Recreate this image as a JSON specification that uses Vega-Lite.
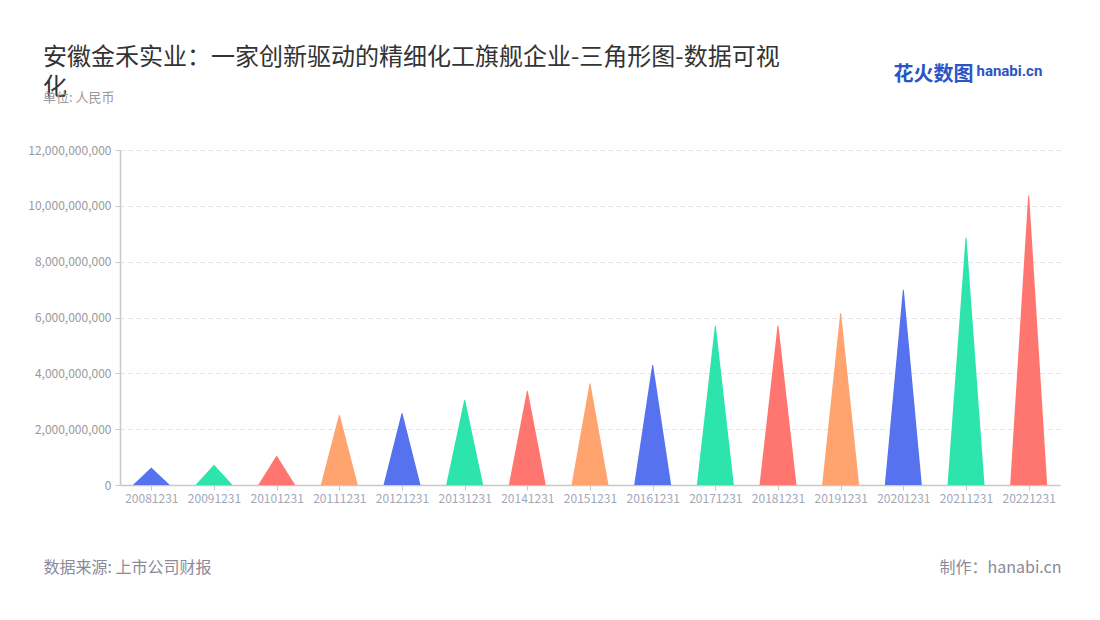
{
  "$schema": "https://vega.github.io/schema/vega-lite/v6.json",
  "width": 940,
  "height": 335,
  "autosize": {"type": "none"},
  "padding": {"left": 120, "top": 150, "right": 40, "bottom": 135},
  "background": "white",
  "config": {
    "font": "Noto Sans CJK SC",
    "view": {"stroke": null}
  },
  "title": {
    "text": ["安徽金禾实业：一家创新驱动的精细化工旗舰企业-三角形图-数据可视", "化"],
    "subtitle": "单位: 人民币",
    "anchor": "start",
    "frame": "group",
    "dx": -77,
    "dy": 42,
    "offset": 0,
    "fontSize": 24,
    "fontWeight": "normal",
    "color": "#333333",
    "lineHeight": 30,
    "subtitleFontSize": 13,
    "subtitleColor": "#999999",
    "subtitlePadding": -8
  },
  "data": {
    "values": [
      {"date": "20081231", "value": 610000000},
      {"date": "20091231", "value": 710000000},
      {"date": "20101231", "value": 1030000000},
      {"date": "20111231", "value": 2500000000},
      {"date": "20121231", "value": 2560000000},
      {"date": "20131231", "value": 3040000000},
      {"date": "20141231", "value": 3360000000},
      {"date": "20151231", "value": 3630000000},
      {"date": "20161231", "value": 4290000000},
      {"date": "20171231", "value": 5690000000},
      {"date": "20181231", "value": 5700000000},
      {"date": "20191231", "value": 6140000000},
      {"date": "20201231", "value": 6980000000},
      {"date": "20211231", "value": 8850000000},
      {"date": "20221231", "value": 10360000000}
    ]
  },
  "layer": [
    {
      "transform": [
        {"stack": "value", "groupby": ["date"], "as": ["v0", "v1"]},
        {"fold": ["v0", "v1"], "as": ["pt", "y"]}
      ],
      "mark": {"type": "trail", "clip": true},
      "encoding": {
        "x": {
          "field": "date",
          "type": "ordinal",
          "scale": {"type": "point", "padding": 0.5},
          "axis": {
            "orient": "bottom",
            "labelAngle": 0,
            "labelColor": "#a3a7b7",
            "labelFontSize": 12,
            "labelPadding": 3,
            "tickColor": "#c8c8c8",
            "tickSize": 5,
            "domainColor": "#c8c8c8",
            "domainWidth": 1.5,
            "grid": false,
            "title": "数据来源: 上市公司财报",
            "titleX": -77,
            "titleY": 82,
            "titleAlign": "left",
            "titleBaseline": "middle",
            "titleFontSize": 16,
            "titleFontWeight": "normal",
            "titleColor": "#8a8a99"
          }
        },
        "y": {
          "field": "y",
          "type": "quantitative",
          "scale": {"domain": [0, 12000000000], "nice": false},
          "axis": {
            "orient": "left",
            "values": [0, 2000000000, 4000000000, 6000000000, 8000000000, 10000000000, 12000000000],
            "format": ",d",
            "labelColor": "#999999",
            "labelFontSize": 12,
            "labelPadding": 4,
            "tickColor": "#c8c8c8",
            "tickSize": 5,
            "domainColor": "#c8c8c8",
            "domainWidth": 1.5,
            "grid": true,
            "gridColor": "#e3e3e3",
            "gridDash": [4, 4],
            "title": "花火数图",
            "titleAngle": 0,
            "titleX": 773,
            "titleY": -76,
            "titleAlign": "left",
            "titleBaseline": "middle",
            "titleFontSize": 20,
            "titleFontWeight": "bold",
            "titleColor": "#2b54c4"
          }
        },
        "size": {
          "field": "pt",
          "type": "ordinal",
          "scale": {"type": "point", "domain": ["v0", "v1"], "range": [37, 0], "padding": 0},
          "legend": null
        },
        "order": {"field": "pt", "type": "ordinal"},
        "color": {
          "field": "date",
          "type": "nominal",
          "scale": {"range": ["#5672ee", "#2ce4ac", "#ff7670", "#ffa36f"]},
          "legend": null
        }
      }
    },
    {
      "mark": {"type": "point", "opacity": 0},
      "encoding": {
        "x": {
          "field": "date",
          "type": "ordinal",
          "axis": {
            "orient": "top",
            "labels": false,
            "ticks": false,
            "domain": false,
            "grid": false,
            "title": "hanabi.cn",
            "titleX": 856,
            "titleY": -80,
            "titleAlign": "left",
            "titleBaseline": "middle",
            "titleFont": "Roboto",
            "titleFontSize": 15,
            "titleFontWeight": "bold",
            "titleColor": "#2b54c4"
          }
        },
        "y": {
          "field": "value",
          "type": "quantitative",
          "axis": {
            "orient": "right",
            "labels": false,
            "ticks": false,
            "domain": false,
            "grid": false,
            "title": "制作：hanabi.cn",
            "titleAngle": 0,
            "titleX": 1,
            "titleY": 417,
            "titleAlign": "right",
            "titleBaseline": "middle",
            "titleFontSize": 16,
            "titleFontWeight": "normal",
            "titleColor": "#8a8a99"
          }
        }
      }
    }
  ],
  "resolve": {"axis": {"x": "independent", "y": "independent"}}
}
